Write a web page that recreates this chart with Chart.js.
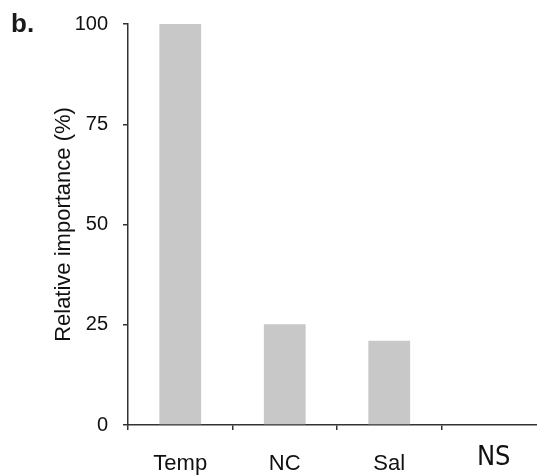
<!DOCTYPE html>
<html>
<head>
<meta charset="utf-8">
<script src="https://cdn.jsdelivr.net/npm/chart.js@4"></script>
<style>
  html, body { margin: 0; padding: 0; background: #fff; overflow: hidden; }
  .wrap { position: relative; width: 537px; height: 476px; overflow: hidden; }
  .wrap canvas { position: absolute; left: 0; top: 0; }
  .panel {
    position: absolute; left: 11px; top: 10px;
    font: bold 26px "Liberation Sans", Arial, sans-serif; line-height: 1;
    color: #1a1a1a;
  }
</style>
</head>
<body>
<div class="wrap">
  <canvas id="chart" width="552" height="476" style="width:552px;height:476px"></canvas>
  <div class="panel">b.</div>
</div>
<script>
// values
const categories = ['Temp', 'NC', 'Sal', 'NS'];
const importance = [100, 25.1, 21, 0];
const yTicks     = [0, 25, 50, 75, 100];

const axisColor = '#333';
const textColor = '#111';
const baseFont  = '"Liberation Sans", Arial, sans-serif';

new Chart(document.getElementById('chart'), {
  type: 'bar',
  data: {
    labels: categories,
    datasets: [{
      data: importance,
      backgroundColor: '#c8c8c8',
      borderWidth: 0,
      categoryPercentage: 0.4,
      barPercentage: 1
    }]
  },
  options: {
    responsive: false,
    animation: false,
    layout: { padding: { left: 51, top: 24, right: 6, bottom: 0 } },
    plugins: { legend: { display: false }, tooltip: { enabled: false } },
    scales: {
      x: {
        grid: {
          offset: true,
          drawOnChartArea: false,
          drawTicks: true,
          tickLength: 5,
          color: axisColor,
          lineWidth: 1.5
        },
        border: { color: axisColor, width: 1.5 },
        ticks: {
          color: textColor,
          padding: 21,
          maxRotation: 0,
          font: ctx => ctx.index === 3
            ? { family: '"Liberation Sans Narrow", "DejaVu Sans Condensed", sans-serif', size: 27, lineHeight: '13px' }
            : { family: baseFont, size: 22 }
        },
        afterFit: s => { s.height = 51; s.paddingLeft = 0; s.paddingRight = 0; }
      },
      y: {
        min: 0,
        max: 100,
        afterBuildTicks: s => { s.ticks = yTicks.map(v => ({ value: v })); },
        grid: {
          drawOnChartArea: false,
          drawTicks: true,
          tickLength: 5,
          color: axisColor,
          lineWidth: 1.5
        },
        border: { color: axisColor, width: 1.5 },
        ticks: {
          color: textColor,
          padding: 15,
          font: { family: baseFont, size: 20 }
        },
        title: {
          display: true,
          text: 'Relative importance (%)',
          color: textColor,
          padding: 0,
          font: { family: baseFont, size: 22 }
        },
        afterFit: s => { s.width = 77; s.paddingTop = 0; s.paddingBottom = 0; }
      }
    }
  }
});
</script>
</body>
</html>
